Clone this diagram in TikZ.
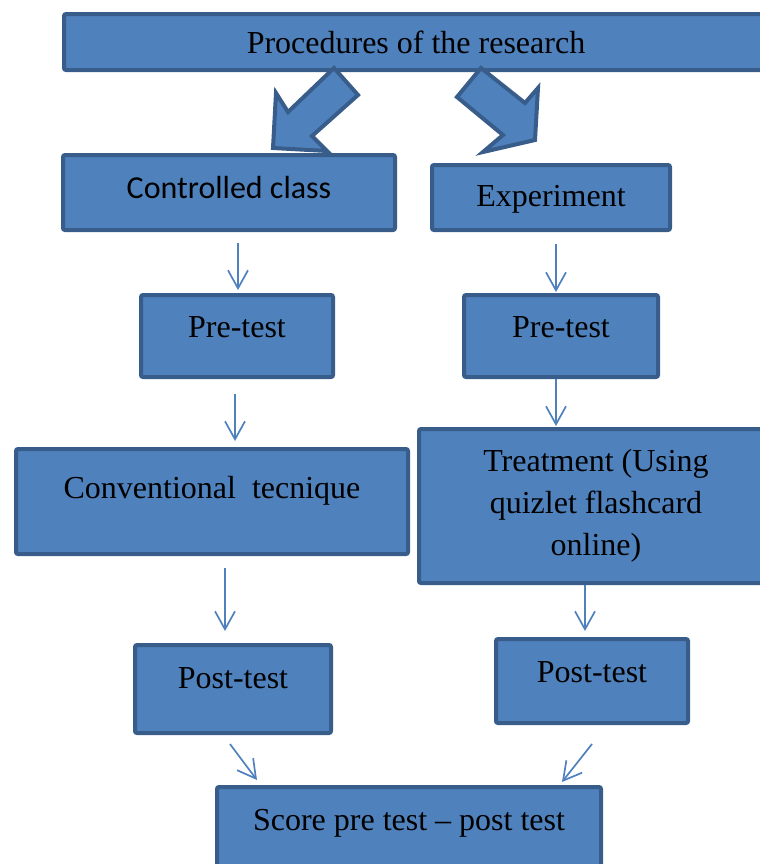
\documentclass[tikz,border=0pt]{standalone}
\usepackage{fontspec}
\setmainfont{Liberation Serif}
\newfontfamily\calibrifont{Carlito}
\usetikzlibrary{arrows.meta}
\definecolor{boxfill}{HTML}{4F81BD}
\definecolor{boxline}{HTML}{385D8A}
\tikzset{
  box/.style={draw=boxline, line width=2pt, fill=boxfill, rounded corners=1pt,
    inner sep=0pt, align=center, font=\fontsize{16}{21}\selectfont},
  lift/.style={text height=11pt, text depth=#1},
  link/.style={draw=boxfill, line width=0.85pt, -{Straight Barb[length=9pt,width=10pt,line width=0.85pt]}},
  blockarrow/.style={fill=boxfill, draw=boxline, line width=2pt, line join=miter}
}
\begin{document}
\begin{tikzpicture}[x=0.5pt, y=-0.5pt]
  \useasboundingbox (0,0) rectangle (760,864);

  %%%%% BOXES %%%%%
  \node[box, lift=0pt, minimum width=352pt, minimum height=28pt] (proc) at (416,42) {Procedures of the research};

  \node[box, lift=5pt, minimum width=166pt, minimum height=37.5pt, font=\calibrifont\fontsize{16}{21}\selectfont] (ctrl) at (229,192.5) {Controlled class};
  \node[box, lift=2pt, minimum width=119pt, minimum height=32.5pt] (exp) at (551,197.5) {Experiment};

  \node[box, lift=10pt, minimum width=96pt, minimum height=41pt] (preA) at (237,336) {Pre-test};
  \node[box, lift=10pt, minimum width=97pt, minimum height=41pt] (preB) at (561,336) {Pre-test};

  \node[box, lift=14pt, minimum width=196pt, minimum height=52.5pt] (conv) at (212,501.5) {Conventional\ \ tecnique};
  \node[box, minimum width=177pt, minimum height=77pt] (treat) at (596,506) {Treatment (Using\\quizlet flashcard\\online)};

  \node[box, lift=12pt, minimum width=98pt, minimum height=44pt] (postA) at (233,689) {Post-test};
  \node[box, lift=10pt, minimum width=96pt, minimum height=42pt] (postB) at (592,681) {Post-test};

  \node[box, lift=13pt, minimum width=192pt, minimum height=45.5pt] (score) at (409,832.5) {Score pre test -- post test};

  %%%%% BLOCK ARROWS %%%%%
  \filldraw[blockarrow] (334,68) -- (358,95) -- (312,136) -- (327,151) -- (273,148) -- (276,93) -- (288,112) -- cycle;
  \filldraw[blockarrow] (481,68) -- (457,97) -- (503,135) -- (483,152) -- (535,140) -- (538,88) -- (525,103) -- cycle;

  %%%%% THIN ARROWS %%%%%
  \draw[link] ([xshift=4.5pt, yshift=-5.5pt]ctrl.south) -- ([xshift=0.5pt, yshift=1.5pt]preA.north);
  \draw[link] ([xshift=2.5pt, yshift=-6pt]exp.south) -- ([xshift=-2.5pt, yshift=0.5pt]preB.north);
  \draw[link] ([xshift=-1pt, yshift=-7.5pt]preA.south) -- ([xshift=11.5pt, yshift=3pt]conv.north);
  \draw[link] ([xshift=-2.5pt]preB.south) -- ([xshift=-20pt, yshift=0.5pt]treat.north);
  \draw[link] ([xshift=6.5pt, yshift=-6pt]conv.south) -- ([xshift=-4pt, yshift=6pt]postA.north);
  \draw[link] ([xshift=-5.5pt]treat.south) -- ([xshift=-3.5pt, yshift=3pt]postB.north);
  \draw[link] ([xshift=-1.5pt, yshift=-4.5pt]postA.south) -- ([xshift=-76pt, yshift=2.5pt]score.north);
  \draw[link] ([yshift=-9.5pt]postB.south) -- ([xshift=76.5pt, yshift=1.5pt]score.north);
\end{tikzpicture}
\end{document}
